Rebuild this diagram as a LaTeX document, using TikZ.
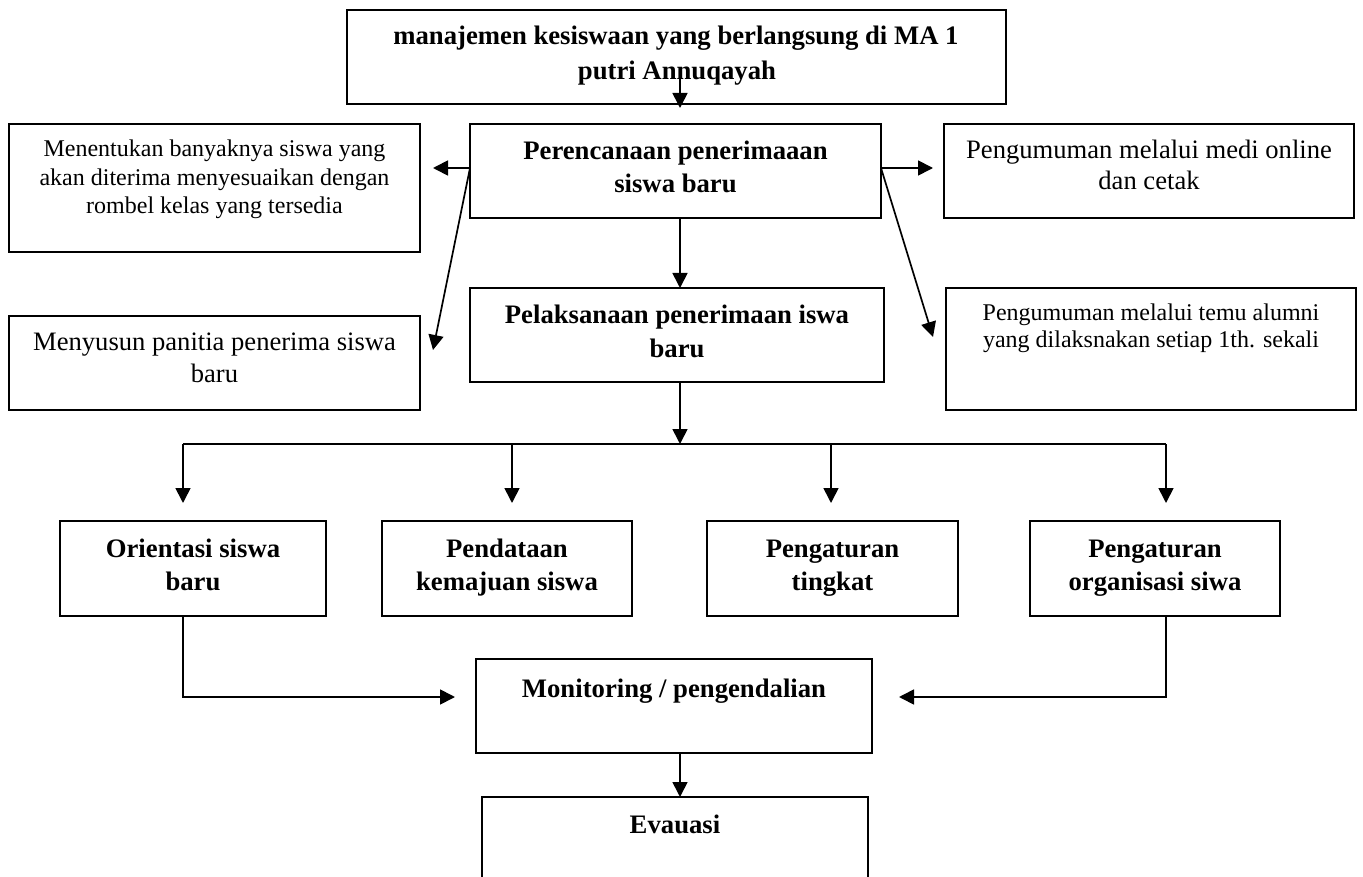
\documentclass[tikz,border=0pt]{standalone}
\usepackage{fontspec}
\setmainfont{Liberation Serif}
\usetikzlibrary{arrows.meta}
\newcommand\mkbox[5]{\node[box, minimum width={(#4-#2)*1pt}, minimum height={(#5-#3)*1pt}] (#1) at ({(#2+#4)/2},{(#3+#5)/2}) {};}
\tikzset{
  box/.style={draw, line width=1.7pt, inner sep=0pt, outer sep=0pt},
  ln/.style={line width=1.7pt},
  arr/.style={line width=1.7pt, -{Triangle[length=15pt,width=15pt]}},
  bt/.style={font=\fontsize{26.7}{31}\selectfont\bfseries, anchor=base, inner sep=0pt},
  rt/.style={font=\fontsize{24}{28}\selectfont, anchor=base, inner sep=0pt},
  rl/.style={font=\fontsize{26.6}{31}\selectfont, anchor=base, inner sep=0pt},
}
\begin{document}
\begin{tikzpicture}[x=1pt,y=-1pt]
\useasboundingbox (0,0) rectangle (1363,877);
\clip (0,0) rectangle (1363,877);
\fill[white] (0,0) rectangle (1363,877);
% boxes
\mkbox{top}{347}{10}{1006}{104}
\mkbox{pere}{470}{124}{881}{218}
\mkbox{lbA}{9}{124}{420}{252}
\mkbox{rbA}{944}{124}{1354}{218}
\mkbox{pela}{470}{288}{884}{382}
\mkbox{lbB}{9}{316}{420}{410}
\mkbox{rbB}{946}{288}{1356}{410}
\mkbox{oa}{60}{521}{326}{616}
\mkbox{ob}{382}{521}{632}{616}
\mkbox{oc}{707}{521}{958}{616}
\mkbox{od}{1030}{521}{1280}{616}
\mkbox{mon}{476}{659}{872}{753}
\mkbox{eva}{482}{797}{868}{920}
% texts
\node[bt] (t1) at (676,45) {manajemen kesiswaan yang berlangsung di MA 1};
\node[bt] (t2) at (677,80) {putri Annuqayah};
\node[bt] (t3) at (675.5,160) {Perencanaan penerimaaan};
\node[bt] (t4) at (675.5,193) {siswa baru};
\node[bt] (t5) at (677,324) {Pelaksanaan penerimaan iswa};
\node[bt] (t6) at (677,357) {baru};
\node[rt] (t7) at (214.5,157) {Menentukan banyaknya siswa yang};
\node[rt] (t8) at (214.5,186) {akan diterima menyesuaikan dengan};
\node[rt] (t9) at (214.5,214) {rombel kelas yang tersedia};
\node[rl] (t10) at (214.5,351) {Menyusun panitia penerima siswa};
\node[rl] (t11) at (214.5,382) {baru};
\node[rl] (t12) at (1149,159) {Pengumuman melalui medi online};
\node[rl] (t13) at (1149,190) {dan cetak};
\node[rt] (t14) at (1151,321) {Pengumuman melalui temu alumni};
\node[rt] (t15) at (1151,348) {yang dilaksnakan setiap 1th. sekali};
\node[bt] (t16) at (193,557) {Orientasi siswa};
\node[bt] (t17) at (193,590) {baru};
\node[bt] (t18) at (507,557) {Pendataan};
\node[bt] (t19) at (507,590) {kemajuan siswa};
\node[bt] (t20) at (832.5,557) {Pengaturan};
\node[bt] (t21) at (832.5,590) {tingkat};
\node[bt] (t22) at (1155,557) {Pengaturan};
\node[bt] (t23) at (1155,590) {organisasi siwa};
\node[bt] (t24) at (674,697) {Monitoring / pengendalian};
\node[bt] (t25) at (675,833) {Evauasi};
% helper coordinates
\coordinate (sp) at (680,0);
\coordinate (ya) at (0,168);
\coordinate (bus) at (0,444);
\coordinate (yb) at (0,697);
\coordinate (xa) at (183,0);
\coordinate (xb) at (512,0);
\coordinate (xc) at (831,0);
\coordinate (xd) at (1166,0);
\coordinate (dl) at (433,350);
\coordinate (dr) at (933,337);
% connectors
\draw[arr] ([yshift=29pt]top.south -| sp) -- ([yshift=-4pt]top.south -| sp);
\draw[arr] (pere.south -| sp) -- (pela.north -| sp);
\draw[arr] (pere.west |- ya) -- ([xshift=13pt]lbA.east |- ya);
\draw[arr] (pere.east |- ya) -- ([xshift=-11pt]rbA.west |- ya);
\draw[arr] (pere.west |- ya) -- (dl);
\draw[arr] (pere.east |- ya) -- (dr);
\draw[arr] (pela.south -| sp) -- (sp |- bus);
\draw[ln] (xa |- bus) -- (xd |- bus);
\draw[arr] (xa |- bus) -- ([yshift=18pt]oa.north -| xa);
\draw[arr] (xb |- bus) -- ([yshift=18pt]ob.north -| xb);
\draw[arr] (xc |- bus) -- ([yshift=18pt]oc.north -| xc);
\draw[arr] (xd |- bus) -- ([yshift=18pt]od.north -| xd);
\draw[arr] (oa.south -| xa) |- ([xshift=-21pt]mon.west |- yb);
\draw[arr] (od.south -| xd) |- ([xshift=27pt]mon.east |- yb);
\draw[arr] (mon.south -| sp) -- (eva.north -| sp);
\end{tikzpicture}
\end{document}
